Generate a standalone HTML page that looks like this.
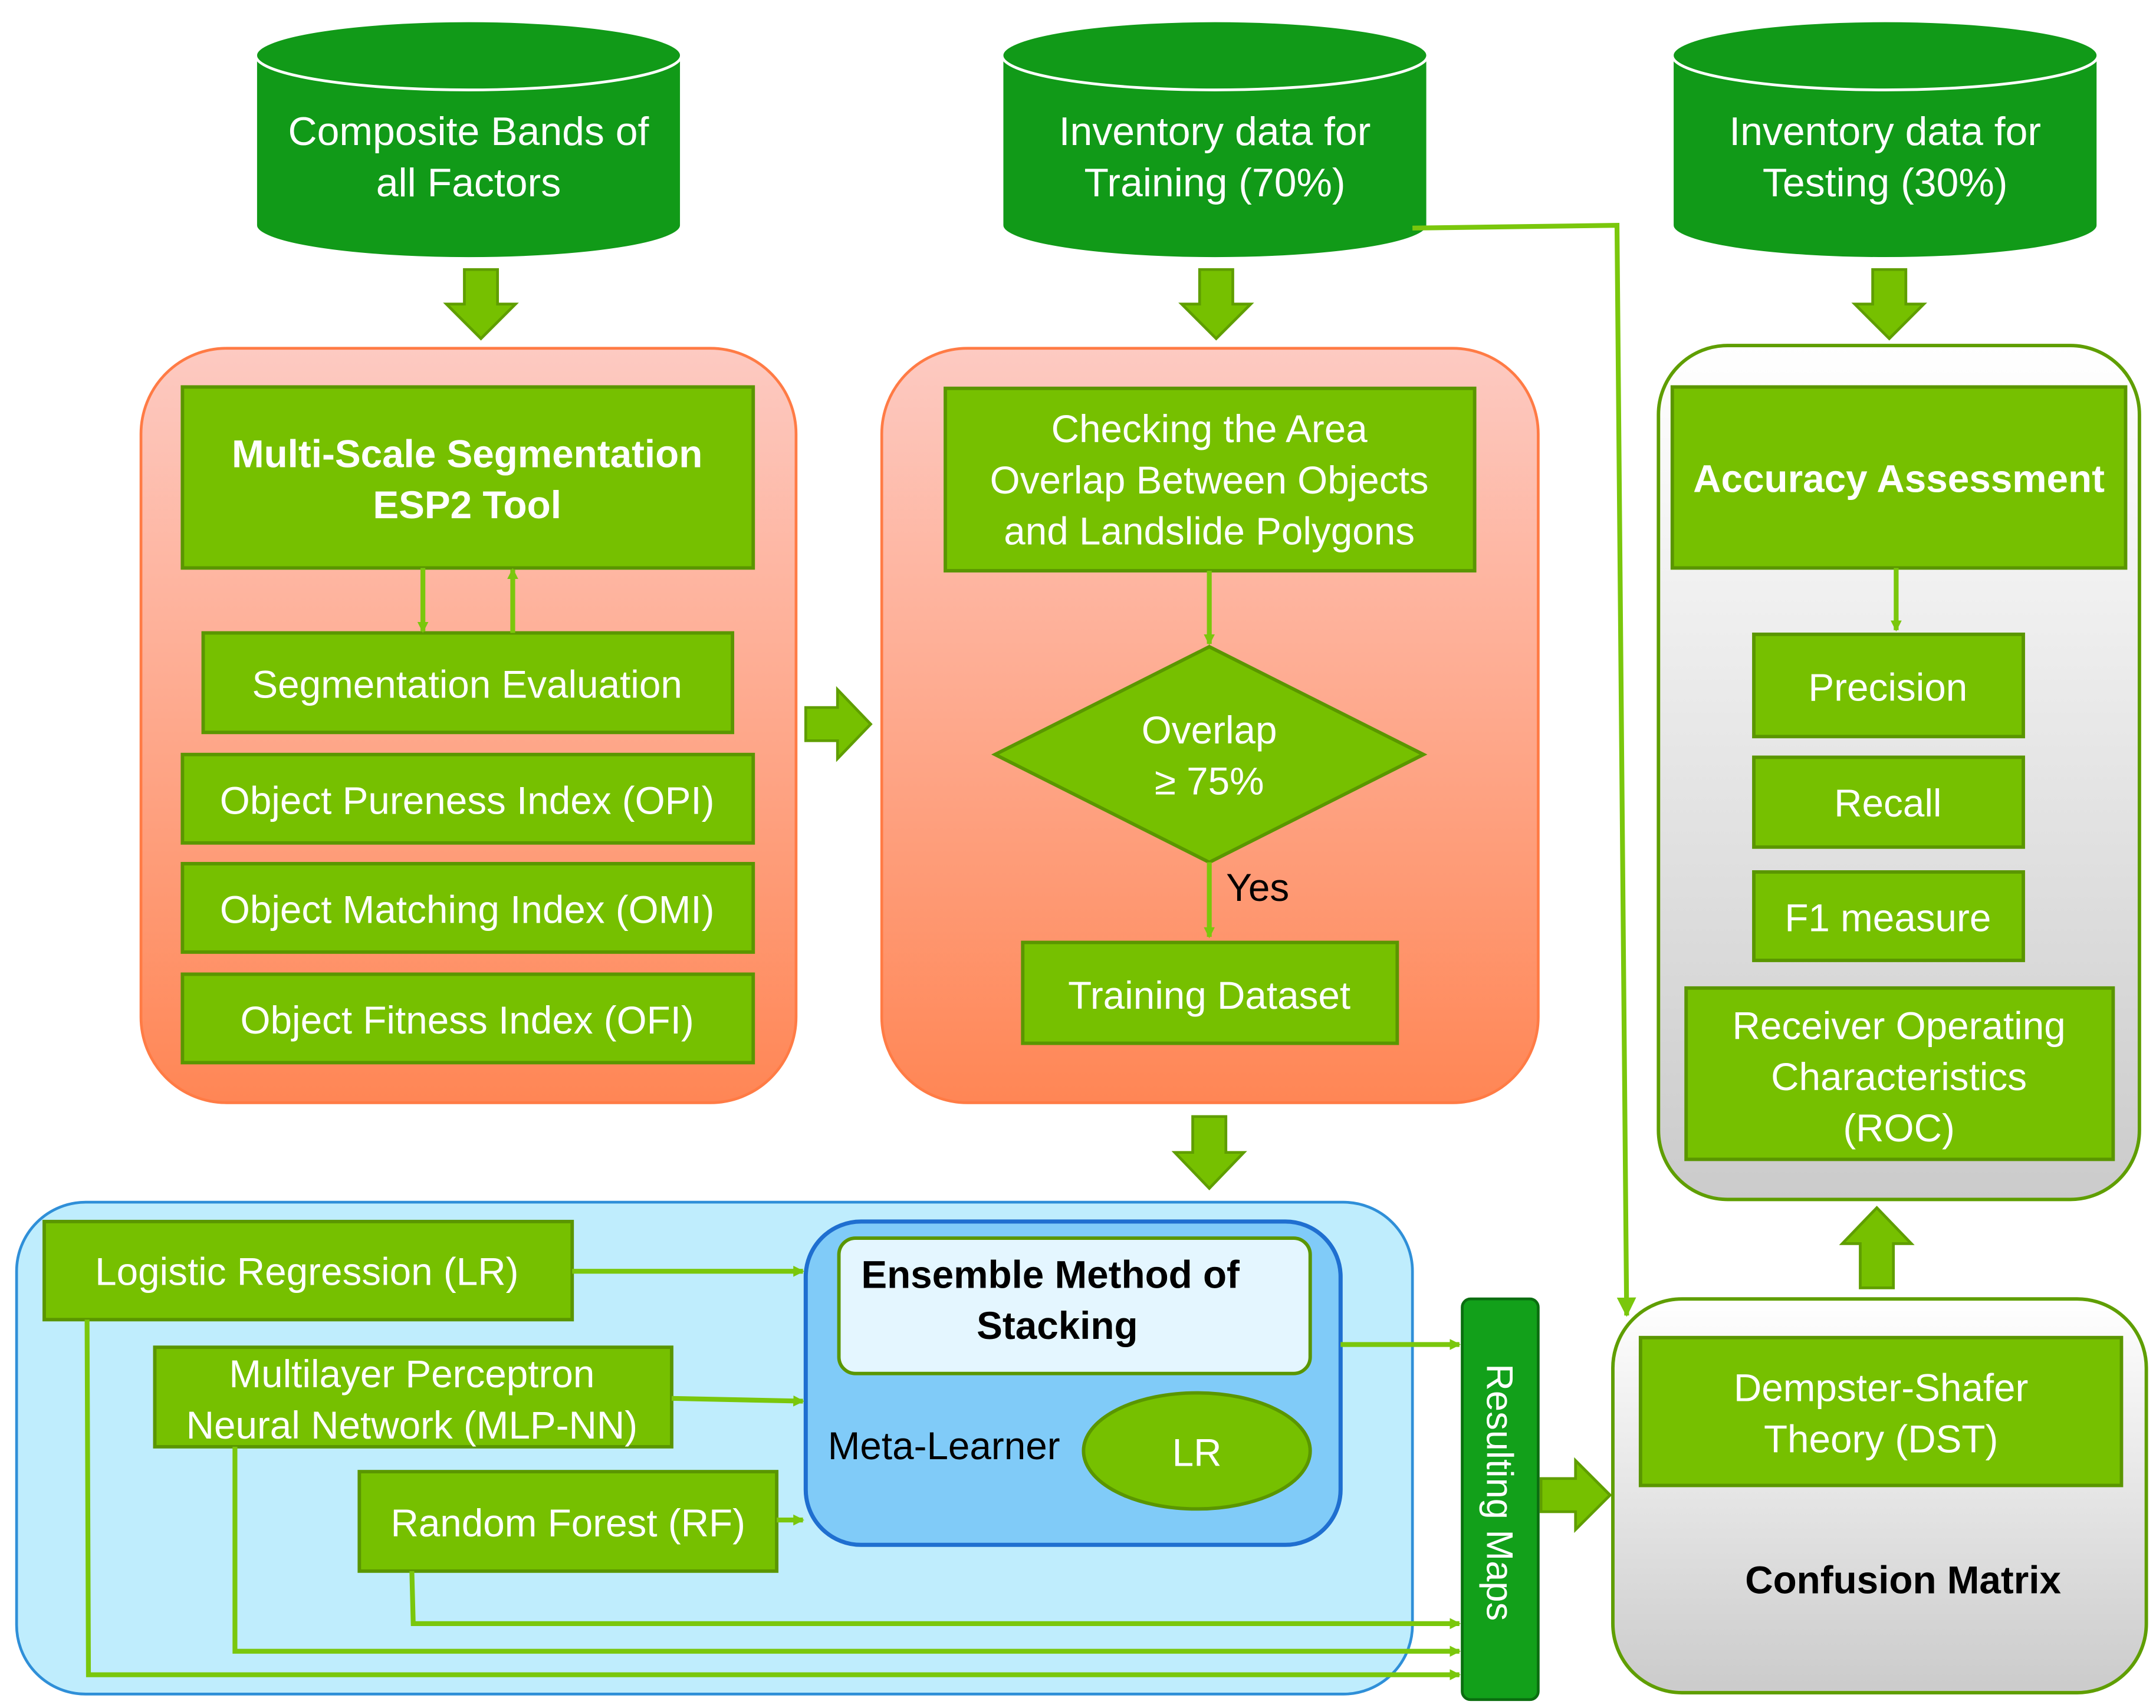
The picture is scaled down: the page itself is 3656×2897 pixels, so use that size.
<!DOCTYPE html>
<html><head><meta charset="utf-8"><style>
html,body{margin:0;padding:0;background:#fff}
svg{display:block}
text{font-family:"Liberation Sans","DejaVu Sans",sans-serif}
</style></head><body>
<svg xmlns="http://www.w3.org/2000/svg" width="3656" height="2897" viewBox="0 0 1560 1236">
<defs>
<linearGradient id="og" x1="0" y1="0" x2="0" y2="1"><stop offset="0" stop-color="#fdcac2"/><stop offset="1" stop-color="#ff8655"/></linearGradient>
<linearGradient id="gg" x1="0" y1="0" x2="0" y2="1"><stop offset="0" stop-color="#ffffff"/><stop offset="1" stop-color="#cbcbcb"/></linearGradient>
<marker id="ah" markerWidth="8" markerHeight="8" refX="7" refY="4" orient="auto" markerUnits="userSpaceOnUse" viewBox="0 0 8 8"><path d="M0,0 L8,4 L0,8 z" fill="#7ac70c"/></marker>
<marker id="ah2" markerWidth="14" markerHeight="14" refX="13" refY="7" orient="auto" markerUnits="userSpaceOnUse" viewBox="0 0 14 14"><path d="M0,0 L14,7 L0,14 z" fill="#7ac70c"/></marker>
</defs>
<rect width="1560" height="1236" fill="#fff"/>

<!-- cylinders -->
<g fill="#119a18" stroke="#fff" stroke-width="2">
<path d="M185,40 L185,163 A154,24 0 0 0 493,163 L493,40 Z"/><ellipse cx="339" cy="40" rx="154" ry="25"/>
<path d="M725,40 L725,163 A154,24 0 0 0 1033,163 L1033,40 Z"/><ellipse cx="879" cy="40" rx="154" ry="25"/>
<path d="M1210,40 L1210,163 A154,24 0 0 0 1518,163 L1518,40 Z"/><ellipse cx="1364" cy="40" rx="154" ry="25"/>
</g>
<g fill="#fff" font-size="29" text-anchor="middle">
<text x="339" y="105">Composite Bands of</text><text x="339" y="142">all Factors</text>
<text x="879" y="105">Inventory data for</text><text x="879" y="142">Training (70%)</text>
<text x="1364" y="105">Inventory data for</text><text x="1364" y="142">Testing (30%)</text>
</g>

<!-- block arrows -->
<g fill="#76c000" stroke="#5f9e00" stroke-width="2">
<path d="M336,195 L360,195 L360,220 L373,220 L348,245 L323,220 L336,220 Z"/>
<path d="M868,195 L892,195 L892,220 L905,220 L880,245 L855,220 L868,220 Z"/>
<path d="M1355,195 L1379,195 L1379,220 L1392,220 L1367,245 L1342,220 L1355,220 Z"/>
<path d="M583,512 L606,512 L606,499 L630,524 L606,549 L606,536 L583,536 Z"/>
<path d="M863,808 L887,808 L887,834 L900,834 L875,860 L850,834 L863,834 Z"/>
<path d="M1346,932 L1370,932 L1370,900 L1383,900 L1358,874 L1333,900 L1346,900 Z"/>
<path d="M1115,1070 L1140,1070 L1140,1057 L1165,1082 L1140,1107 L1140,1094 L1115,1094 Z"/>
</g>

<!-- panels -->
<rect x="102" y="252" width="474" height="546" rx="62" fill="url(#og)" stroke="#ff7b45" stroke-width="2"/>
<rect x="638" y="252" width="475" height="546" rx="62" fill="url(#og)" stroke="#ff7b45" stroke-width="2"/>
<rect x="1200" y="250" width="348" height="618" rx="50" fill="url(#gg)" stroke="#5f9e00" stroke-width="2.5"/>
<rect x="1167" y="940" width="386" height="285" rx="50" fill="url(#gg)" stroke="#5f9e00" stroke-width="2.5"/>
<rect x="12" y="870" width="1010" height="356" rx="50" fill="#bfedfd" stroke="#2f8fd8" stroke-width="2"/>
<rect x="583" y="884" width="387" height="234" rx="40" fill="#80cbf8" stroke="#1f6fd0" stroke-width="3"/>

<!-- green boxes -->
<g fill="#76c000" stroke="#5a9600" stroke-width="2.5">
<rect x="132" y="280" width="413" height="131"/>
<rect x="147" y="458" width="383" height="72"/>
<rect x="132" y="546" width="413" height="64"/>
<rect x="132" y="625" width="413" height="64"/>
<rect x="132" y="705" width="413" height="64"/>
<rect x="684" y="281" width="383" height="132"/>
<polygon points="720,546 875,468 1030,546 875,624"/>
<rect x="740" y="682" width="271" height="73"/>
<rect x="1210" y="280" width="328" height="131"/>
<rect x="1269" y="459" width="195" height="74"/>
<rect x="1269" y="548" width="195" height="65"/>
<rect x="1269" y="631" width="195" height="64"/>
<rect x="1220" y="715" width="309" height="124"/>
<rect x="1187" y="968" width="348" height="107"/>
<rect x="32" y="884" width="382" height="71"/>
<rect x="112" y="975" width="374" height="72"/>
<rect x="260" y="1065" width="302" height="72"/>
<ellipse cx="866" cy="1050" rx="82" ry="42"/>
</g>
<rect x="607" y="896" width="341" height="98" rx="12" fill="#e4f6ff" stroke="#5a9600" stroke-width="2.5"/>
<rect x="1058" y="940" width="55" height="290" rx="6" fill="#12a01a" stroke="#0b6e10" stroke-width="2"/>

<!-- texts -->
<g fill="#fff" font-size="28" text-anchor="middle">
<text x="338" y="338" font-weight="bold">Multi-Scale Segmentation</text>
<text x="338" y="375" font-weight="bold">ESP2 Tool</text>
<text x="338" y="505">Segmentation Evaluation</text>
<text x="338" y="589">Object Pureness Index (OPI)</text>
<text x="338" y="668">Object Matching Index (OMI)</text>
<text x="338" y="748">Object Fitness Index (OFI)</text>
<text x="875" y="320">Checking the Area</text>
<text x="875" y="357">Overlap Between Objects</text>
<text x="875" y="394">and Landslide Polygons</text>
<text x="875" y="538">Overlap</text>
<text x="875" y="575">≥ 75%</text>
<text x="875" y="730">Training Dataset</text>
<text x="1374" y="356" font-weight="bold">Accuracy Assessment</text>
<text x="1366" y="507">Precision</text>
<text x="1366" y="591">Recall</text>
<text x="1366" y="674">F1 measure</text>
<text x="1374" y="752">Receiver Operating</text>
<text x="1374" y="789">Characteristics</text>
<text x="1374" y="826">(ROC)</text>
<text x="1361" y="1014">Dempster-Shafer</text>
<text x="1361" y="1051">Theory (DST)</text>
<text x="222" y="930">Logistic Regression (LR)</text>
<text x="298" y="1004">Multilayer Perceptron</text>
<text x="298" y="1041">Neural Network (MLP-NN)</text>
<text x="411" y="1112">Random Forest (RF)</text>
<text x="866" y="1061">LR</text>
<text transform="translate(1076,1080) rotate(90)" font-size="27">Resulting Maps</text>
</g>
<g fill="#000" font-size="28" text-anchor="middle">
<text x="760" y="932" font-weight="bold">Ensemble Method of</text>
<text x="765" y="969" font-weight="bold">Stacking</text>
<text x="683" y="1056">Meta-Learner</text>
<text x="1377" y="1153" font-weight="bold">Confusion Matrix</text>
<text x="910" y="652" text-anchor="middle">Yes</text>
</g>

<!-- connectors -->
<g stroke="#7ac70c" stroke-width="3.5" fill="none">
<path d="M306,411 L306,457" marker-end="url(#ah)"/>
<path d="M371,458 L371,412" marker-end="url(#ah)"/>
<path d="M875,413 L875,466" marker-end="url(#ah)"/>
<path d="M875,624 L875,678" marker-end="url(#ah)"/>
<path d="M1372,411 L1372,456" marker-end="url(#ah)"/>
<path d="M1022,165 L1170,163 L1177,952" marker-end="url(#ah2)"/>
<path d="M414,920 L581,920" marker-end="url(#ah)"/>
<path d="M486,1012 L581,1014" marker-end="url(#ah)"/>
<path d="M562,1100 L581,1100" marker-end="url(#ah)"/>
<path d="M970,973 L1056,973" marker-end="url(#ah)"/>
<path d="M298,1137 L299,1175 L1056,1175" marker-end="url(#ah)"/>
<path d="M170,1047 L170,1195 L1056,1195" marker-end="url(#ah)"/>
<path d="M63,955 L64,1212 L1056,1212" marker-end="url(#ah)"/>
</g>
</svg>
</body></html>
